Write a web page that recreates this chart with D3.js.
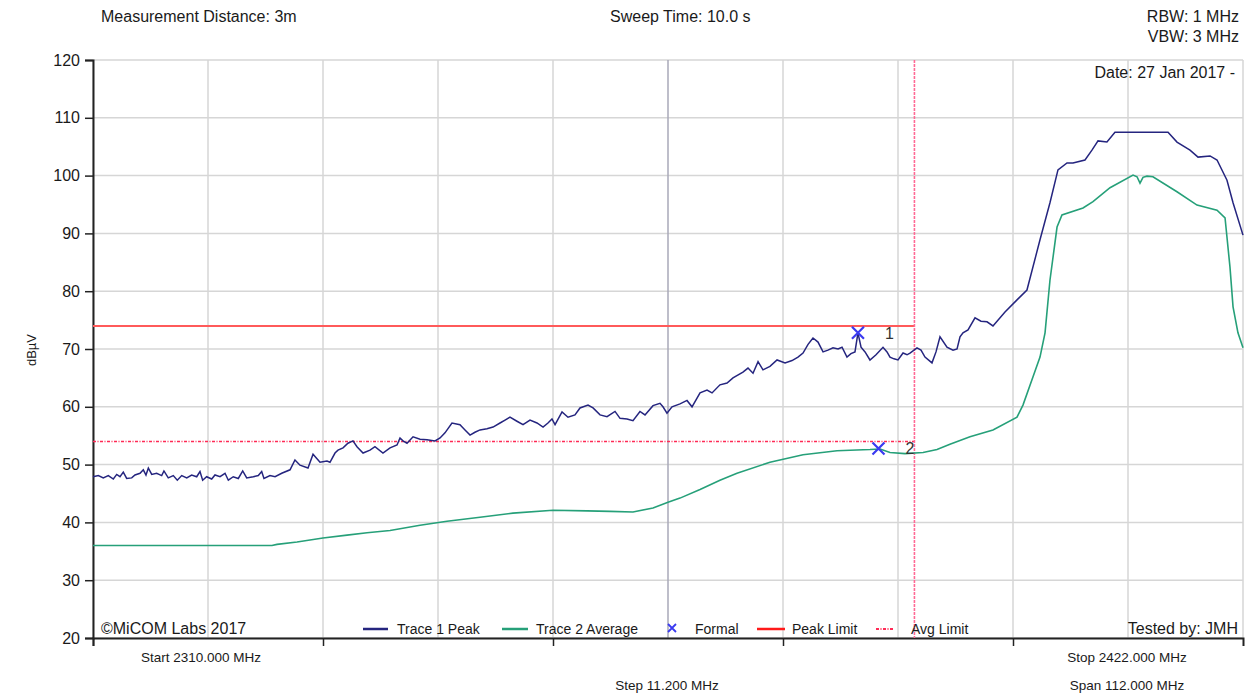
<!DOCTYPE html>
<html>
<head>
<meta charset="utf-8">
<script src="https://cdn.jsdelivr.net/npm/d3@7"></script>
<style>
  html, body { margin: 0; padding: 0; background: #fff; }
  svg { display: block; font-family: "Liberation Sans", Arial, sans-serif; }
</style>
</head>
<body>
<svg id="chart" width="1250" height="696"></svg>
<script>
// ---------------- DATA ----------------
const startFreq = 2310, stopFreq = 2422, stepFreq = 11.2;
const yMin = 20, yMax = 120;
const yTicks = [20, 30, 40, 50, 60, 70, 80, 90, 100, 110, 120];
const xTickFreqs = [2310, 2332.4, 2354.8, 2377.2, 2399.6];
const gridFreqs = [2310, 2321.2, 2332.4, 2343.6, 2354.8, 2366, 2377.2, 2388.4, 2399.6, 2410.8, 2422];

const peakFreq = [2310.00,2310.52,2311.00,2311.49,2311.98,2312.31,2312.63,2312.95,2313.28,2313.77,2314.09,2314.58,2314.90,2315.16,2315.39,2315.72,2316.20,2316.69,2316.91,2317.33,2317.82,2318.21,2318.64,2319.13,2319.61,2320.10,2320.42,2320.68,2321.07,2321.56,2321.88,2322.37,2322.86,2323.18,2323.66,2324.15,2324.58,2324.97,2325.61,2326.10,2326.43,2326.65,2327.24,2327.73,2328.38,2329.19,2329.67,2330.16,2330.94,2331.43,2332.11,2332.79,2333.08,2333.57,2333.86,2334.35,2334.83,2335.32,2335.71,2336.30,2336.98,2337.46,2338.24,2338.93,2339.61,2339.90,2340.19,2340.58,2341.17,2341.85,2342.53,2343.31,2343.80,2344.28,2344.96,2345.74,2346.23,2346.72,2347.20,2347.69,2348.37,2348.96,2349.64,2350.13,2350.61,2351.29,2351.88,2352.56,2353.24,2353.83,2354.31,2354.70,2355.00,2355.68,2356.26,2356.94,2357.43,2358.21,2358.70,2359.38,2360.06,2360.84,2361.33,2362.01,2362.59,2363.27,2363.76,2364.54,2365.22,2365.51,2365.90,2366.39,2367.17,2367.85,2368.34,2369.12,2369.80,2370.29,2371.06,2371.75,2372.33,2373.30,2373.79,2374.28,2374.77,2375.25,2375.93,2376.62,2377.40,2378.08,2378.66,2379.15,2379.64,2380.12,2380.61,2381.10,2381.58,2382.07,2382.56,2382.95,2383.43,2383.82,2384.21,2384.50,2384.80,2385.19,2385.67,2386.26,2386.94,2387.33,2387.62,2388.01,2388.40,2388.89,2389.28,2389.57,2390.25,2390.64,2391.03,2391.71,2392.10,2392.49,2393.17,2393.76,2394.15,2394.44,2394.73,2395.22,2395.90,2396.48,2397.07,2397.65,2398.82,2399.99,2400.96,2402.23,2403.20,2403.98,2404.86,2405.44,2406.61,2407.29,2407.88,2408.75,2409.53,2414.70,2415.57,2416.84,2417.62,2418.79,2419.47,2420.44,2421.03,2422.00];
const peakLevel = [47.9,48.1,47.7,48.1,47.5,48.3,47.9,48.7,47.6,47.7,48.2,48.5,49.1,48.2,49.4,48.3,48.5,48.1,48.9,47.7,48.1,47.3,48.1,47.7,48.2,47.9,48.8,47.3,47.9,47.5,48.2,47.9,48.5,47.3,47.9,47.6,48.9,47.7,47.9,48.1,48.8,47.6,48.1,47.9,48.5,49.1,50.8,49.9,49.4,51.8,50.4,50.6,50.4,52.0,52.5,52.9,53.7,54.1,53.1,52.0,52.5,53.1,52.0,52.9,53.4,54.6,54.1,53.7,54.8,54.4,54.3,54.1,54.6,55.5,57.2,56.9,56.0,55.1,55.6,56.0,56.2,56.5,57.2,57.7,58.2,57.5,56.9,57.7,57.2,56.5,57.2,57.9,56.9,59.1,58.2,58.6,59.8,60.3,59.8,58.6,58.3,59.2,58.0,57.9,57.6,59.2,58.6,60.2,60.6,60.0,58.9,60.0,60.5,61.1,60.0,62.4,62.9,62.4,63.8,64.1,65.0,66.0,66.7,65.8,67.8,66.4,67.0,68.1,67.6,68.0,68.6,69.3,70.8,71.9,71.2,69.5,69.8,70.2,70.0,70.3,68.6,69.2,69.5,72.8,70.3,69.5,68.1,69.0,70.3,69.5,68.6,68.3,68.1,69.3,69.0,69.3,70.2,69.8,68.6,67.6,69.5,72.1,70.3,69.8,70.0,72.1,72.8,73.3,75.4,74.8,74.7,74.0,76.4,78.5,80.2,88.9,95.3,101.0,102.2,102.2,102.7,104.4,106.0,105.8,107.5,107.5,105.8,104.4,103.2,103.4,102.7,99.2,95.3,89.7];

const avgFreq = [2310.00,2327.43,2327.92,2329.87,2332.40,2334.74,2336.69,2338.93,2341.85,2344.48,2347.69,2350.90,2354.80,2358.11,2360.35,2362.59,2364.54,2366.00,2367.17,2369.12,2371.06,2372.72,2375.93,2379.15,2382.46,2385.67,2386.65,2387.62,2389.08,2390.84,2392.20,2393.46,2395.41,2397.65,2399.99,2400.57,2401.55,2402.23,2402.72,2403.20,2403.89,2404.37,2406.42,2407.39,2409.05,2411.29,2411.68,2411.97,2412.26,2412.65,2413.23,2415.57,2417.52,2419.47,2420.25,2420.73,2421.03,2421.51,2422.00];
const avgLevel = [36.0,36.0,36.2,36.6,37.3,37.8,38.2,38.6,39.5,40.2,40.9,41.6,42.1,42.0,41.9,41.8,42.5,43.5,44.2,45.7,47.3,48.5,50.4,51.7,52.4,52.6,52.7,52.1,51.9,52.1,52.6,53.5,54.8,56.0,58.2,60.3,65.2,68.6,72.8,81.9,91.1,93.2,94.4,95.5,97.9,100.1,99.8,98.7,99.7,99.9,99.8,97.2,94.9,94.0,92.7,84.2,77.3,72.8,70.2];

const peakLimit = 74, avgLimit = 54, limitEndFreq = 2390;
const markerFreq = [2384.5, 2386.5];
const markerLevel = [72.8, 52.8];
const markerLabel = ["1", "2"];

const headerTexts = ["Measurement Distance: 3m", "Sweep Time: 10.0 s", "RBW: 1 MHz", "VBW: 3 MHz", "Date: 27 Jan 2017 -"];
const legendLabels = ["Trace 1 Peak", "Trace 2 Average", "Formal", "Peak Limit", "Avg Limit"];
const footerTexts = ["©MiCOM Labs 2017", "Tested by: JMH", "Start 2310.000 MHz", "Stop 2422.000 MHz", "Step 11.200 MHz", "Span 112.000 MHz"];
const yAxisTitle = "dBµV";

// ---------------- DRAW ----------------
(function draw() {
  const C = {
    peak: "#25257f", avg: "#26a079", peakLim: "#ff5a5a", avgLim: "#ff2a55",
    vline: "#ff6a95", marker: "#3a3af0", grid: "#d6d6d6", gridMid: "#a9a9b8", text: "#1a1a1a"
  };

  const svg = d3.select("#chart");
  const L = 93, R = 1243, T = 60, B = 638;
  const x = d3.scaleLinear().domain([startFreq, stopFreq]).range([L, R]);
  const y = d3.scaleLinear().domain([yMin, yMax]).range([B, T]);

  // grid
  const g = svg.append("g");
  g.selectAll("line.h").data(yTicks).join("line")
    .attr("x1", L).attr("x2", R)
    .attr("y1", d => y(d)).attr("y2", d => y(d))
    .attr("stroke", C.grid).attr("stroke-width", 1.5);
  g.selectAll("line.v").data(gridFreqs).join("line")
    .attr("x1", d => x(d)).attr("x2", d => x(d))
    .attr("y1", T).attr("y2", B)
    .attr("stroke", (d, i) => i === 5 ? C.gridMid : C.grid).attr("stroke-width", 1.5);

  // axes
  const yAxis = d3.axisLeft(y).tickValues(yTicks).tickSize(8).tickPadding(5);
  const ya = svg.append("g").attr("transform", `translate(${L},0)`).call(yAxis);
  ya.select(".domain").attr("stroke", "#222").attr("stroke-width", 2);
  ya.selectAll(".tick line").attr("stroke", "#222").attr("stroke-width", 1.5);
  ya.selectAll(".tick text").attr("font-size", 16).attr("fill", C.text)
    .attr("font-family", "'Liberation Sans', Arial, sans-serif");

  const xAxis = d3.axisBottom(x).tickValues(xTickFreqs).tickSize(8).tickFormat("");
  const xa = svg.append("g").attr("transform", `translate(0,${B})`).call(xAxis);
  xa.select(".domain").attr("stroke", "#222").attr("stroke-width", 2);
  xa.selectAll(".tick line").attr("stroke", "#222").attr("stroke-width", 1.5);

  // limits
  svg.append("line").attr("x1", x(startFreq)).attr("x2", x(limitEndFreq))
    .attr("y1", y(peakLimit)).attr("y2", y(peakLimit))
    .attr("stroke", C.peakLim).attr("stroke-width", 2);
  svg.append("line").attr("x1", x(startFreq)).attr("x2", x(limitEndFreq))
    .attr("y1", Math.round(y(avgLimit)) + 0.5).attr("y2", Math.round(y(avgLimit)) + 0.5)
    .attr("stroke", C.avgLim).attr("stroke-width", 1.3).attr("stroke-dasharray", "3,1.5,1,1.5");
  svg.append("line").attr("x1", x(limitEndFreq)).attr("x2", x(limitEndFreq))
    .attr("y1", T).attr("y2", B)
    .attr("stroke", C.vline).attr("stroke-width", 1.6).attr("stroke-dasharray", "3,1");

  // traces
  const line = d3.line().x(d => x(d[0])).y(d => y(d[1]));
  svg.append("path").datum(d3.zip(avgFreq, avgLevel))
    .attr("d", line).attr("fill", "none").attr("stroke", C.avg).attr("stroke-width", 1.6);
  svg.append("path").datum(d3.zip(peakFreq, peakLevel))
    .attr("d", line).attr("fill", "none").attr("stroke", C.peak).attr("stroke-width", 1.5);

  // markers
  markerFreq.forEach((f, i) => {
    const cx = x(f), cy = y(markerLevel[i]), s = 6;
    svg.append("path").attr("d", `M${cx - s},${cy - s}L${cx + s},${cy + s}M${cx - s},${cy + s}L${cx + s},${cy - s}`)
      .attr("stroke", C.marker).attr("stroke-width", 2.2).attr("fill", "none");
    svg.append("text").attr("x", cx + 27).attr("y", cy + 6).text(markerLabel[i])
      .attr("font-size", 16).attr("fill", "#333");
  });

  const t = (txt, xx, yy, anchor, size) => svg.append("text").attr("x", xx).attr("y", yy)
    .attr("text-anchor", anchor).attr("font-size", size).attr("fill", C.text).text(txt);
  t(headerTexts[0], 101, 22, "start", 16);
  t(headerTexts[1], 610, 22, "start", 16);
  t(headerTexts[2], 1239, 22, "end", 16);
  t(headerTexts[3], 1239, 42, "end", 16);
  t(headerTexts[4], 1235, 78, "end", 16);

  t(footerTexts[0], 101, 634, "start", 16);
  t(footerTexts[1], 1238, 634, "end", 16);
  t(footerTexts[2], 201, 662, "middle", 13.5);
  t(footerTexts[3], 1127, 662, "middle", 13.5);
  t(footerTexts[4], 667, 690, "middle", 13.5);
  t(footerTexts[5], 1127, 690, "middle", 13.5);

  svg.append("text").attr("transform", "translate(36,350) rotate(-90)")
    .attr("text-anchor", "middle").attr("font-size", 13).attr("fill", C.text).text(yAxisTitle);

  // legend
  const lg = svg.append("g").attr("font-size", 14).attr("fill", C.text);
  const ly = 629;
  lg.append("line").attr("x1", 363).attr("x2", 388).attr("y1", ly).attr("y2", ly).attr("stroke", C.peak).attr("stroke-width", 2.5);
  lg.append("text").attr("x", 397).attr("y", ly + 5).text(legendLabels[0]);
  lg.append("line").attr("x1", 502).attr("x2", 528).attr("y1", ly).attr("y2", ly).attr("stroke", C.avg).attr("stroke-width", 2.5);
  lg.append("text").attr("x", 536).attr("y", ly + 5).text(legendLabels[1]);
  lg.append("path").attr("d", `M668,${ly - 5}L676,${ly + 3}M668,${ly + 3}L676,${ly - 5}`).attr("stroke", C.marker).attr("stroke-width", 1.8);
  lg.append("text").attr("x", 695).attr("y", ly + 5).text(legendLabels[2]);
  lg.append("line").attr("x1", 757).attr("x2", 785).attr("y1", ly).attr("y2", ly).attr("stroke", "#ff1a1a").attr("stroke-width", 2.5);
  lg.append("text").attr("x", 792).attr("y", ly + 5).text(legendLabels[3]);
  lg.append("line").attr("x1", 876).attr("x2", 894).attr("y1", ly).attr("y2", ly).attr("stroke", C.avgLim).attr("stroke-width", 2).attr("stroke-dasharray", "3,1.5,1,1.5");
  lg.append("text").attr("x", 911).attr("y", ly + 5).text(legendLabels[4]);
})();
</script>
</body>
</html>
